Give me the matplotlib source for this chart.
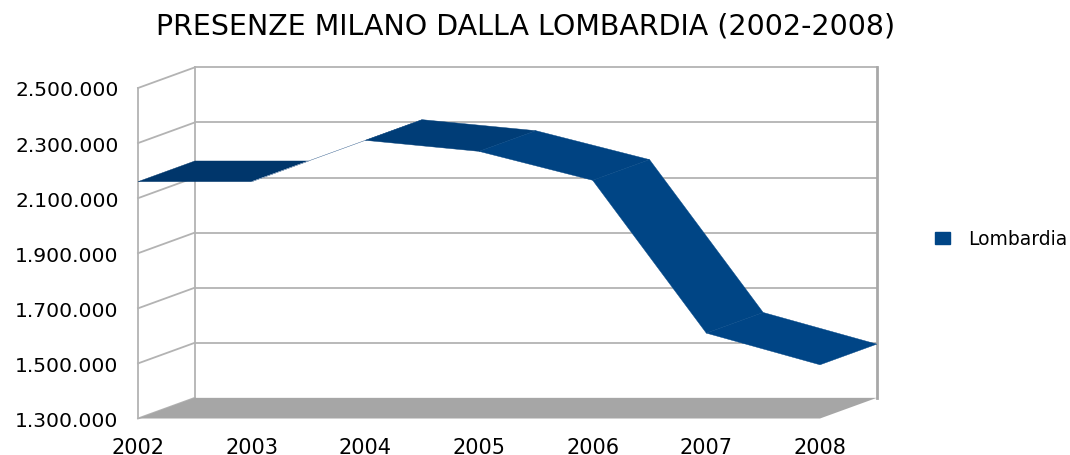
import matplotlib
matplotlib.use("Agg")
import matplotlib.pyplot as plt
from matplotlib.patches import Patch

# ---- data ----
years = ["2002", "2003", "2004", "2005", "2006", "2007", "2008"]
presenze = [2160000, 2160000, 2310000, 2270000, 2165000, 1610000, 1495000]
yticks = [1300000, 1500000, 1700000, 1900000, 2100000, 2300000, 2500000]
ytick_labels = ["1.300.000", "1.500.000", "1.700.000", "1.900.000",
                "2.100.000", "2.300.000", "2.500.000"]
series_name = "Lombardia"
title = "PRESENZE MILANO DALLA LOMBARDIA (2002-2008)"

# ---- style ----
W, H, DPI = 1070, 456, 100
FONT = "DejaVu Sans"
GRID = "#b3b3b3"
FLOOR = "#a6a6a6"
SERIES = "#004586"
SEG_COLORS = ["#00366b", "#8fa6c0", "#003d77", "#004382", "#004585", "#004586"]
DX, DY = 0.5, 75000          # oblique depth offset (data units)
YMIN, YMAX = yticks[0], yticks[-1]

fig = plt.figure(figsize=(W / DPI, H / DPI), dpi=DPI)
ax = fig.add_axes([138 / W, (H - 419.5) / H, 682 / W, 330.5 / H])
n = len(years)
xs = list(range(n))
ax.set_xlim(0, n - 1)
ax.set_ylim(YMIN, YMAX)
for s in ax.spines.values():
    s.set_visible(False)
ax.patch.set_visible(False)

# back wall grid lines
for v in yticks[1:]:
    ax.plot([DX, n - 1 + DX], [v + DY, v + DY], color=GRID, lw=1.3,
            clip_on=False, zorder=1)
# left wall diagonals
for v in yticks:
    ax.plot([0, DX], [v, v + DY], color=GRID, lw=1.3, clip_on=False, zorder=1)
# wall verticals
ax.plot([0, 0], [YMIN, YMAX], color=GRID, lw=1.3, clip_on=False, zorder=1)
ax.plot([DX, DX], [YMIN + DY, YMAX + DY], color=GRID, lw=1.3, clip_on=False, zorder=1)
ax.plot([n - 1 + DX, n - 1 + DX], [YMIN + DY, YMAX + DY], color="#a8a8a8",
        lw=2.0, clip_on=False, zorder=1)

# floor
ax.fill([0, n - 1, n - 1 + DX, DX], [YMIN, YMIN, YMIN + DY, YMIN + DY],
        color=FLOOR, lw=0, clip_on=False, zorder=2)

# ribbon
for i in range(n - 1):
    px = [xs[i], xs[i + 1], xs[i + 1] + DX, xs[i] + DX]
    py = [presenze[i], presenze[i + 1], presenze[i + 1] + DY, presenze[i] + DY]
    ax.fill(px, py, color=SEG_COLORS[i], lw=0.3, ec=SEG_COLORS[i],
            clip_on=False, zorder=3)

# ticks
ax.set_xticks(xs)
ax.set_xticklabels(years, fontsize=15, family=FONT)
ax.set_yticks(yticks)
ax.set_yticklabels(ytick_labels, fontsize=14.6, family=FONT)
ax.tick_params(axis="x", length=0, pad=13)
ax.tick_params(axis="y", length=0, pad=14)

# title
fig.text(526 / W, 1 - 26 / H, title, ha="center", va="center",
         fontsize=20.5, family=FONT)

# legend
leg = fig.legend(handles=[Patch(color=SERIES, label=series_name)],
                 loc="center left", bbox_to_anchor=(935 / W, 1 - 240 / H),
                 frameon=False, prop={"family": FONT, "size": 13.5},
                 handlelength=0.78, handleheight=0.55, handletextpad=1.0,
                 borderpad=0, borderaxespad=0)

fig.savefig("out.png", dpi=DPI)
